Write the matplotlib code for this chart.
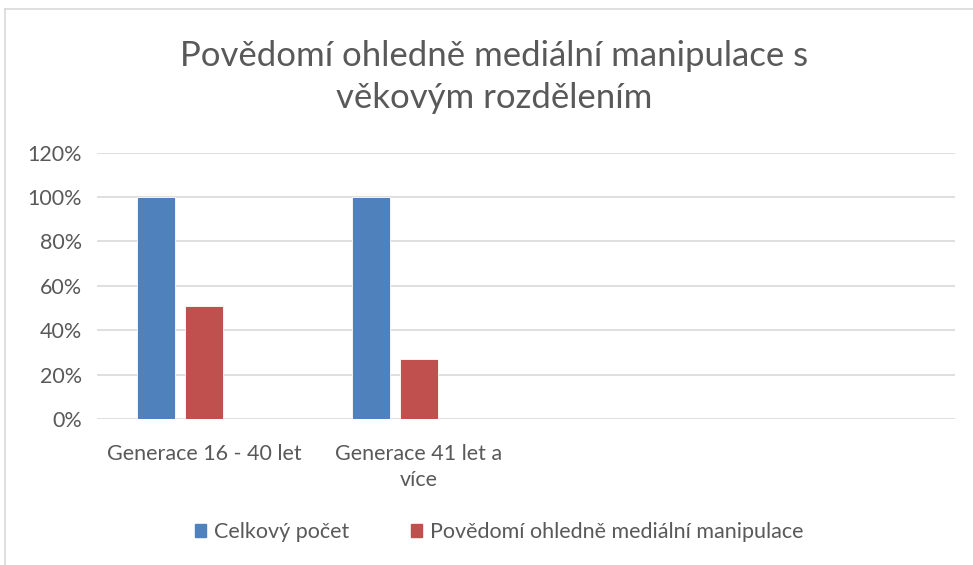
import matplotlib.pyplot as plt
from matplotlib.lines import Line2D
from matplotlib.patches import Patch
import numpy as np

plt.rcParams['font.family'] = ['Lato', 'DejaVu Sans']

title = 'Povědomí ohledně mediální manipulace s\nvěkovým rozdělením'
categories = ['Generace 16 - 40 let', 'Generace 41 let a\nvíce', '', '']
celkovy = [1.00, 1.00, None, None]
povedomi = [0.51, 0.27, None, None]
series_names = ['Celkový počet', 'Povědomí ohledně mediální manipulace']
yticks = [0, 0.2, 0.4, 0.6, 0.8, 1.0, 1.2]

blue = '#4F81BD'
red = '#C0504D'
txt = '#595959'
grid = '#D9D9D9'

fig = plt.figure(figsize=(9.73, 5.65), dpi=100)
ax = fig.add_axes([97/973, 1-419/565, (955-97)/973, (419-152.7)/565])

x = np.arange(len(categories))
w = 38/214.5
step = 48/214.5
for vals, col, off in [(celkovy, blue, -step), (povedomi, red, 0)]:
    xs = [xi + off for xi, v in zip(x, vals) if v is not None]
    vs = [v for v in vals if v is not None]
    ax.bar(xs, vs, width=w, color=col, edgecolor='white', linewidth=0.6, zorder=3)
# third (empty) series slot sits at +step

ax.set_xlim(-0.5, len(categories) - 0.5)
ax.set_ylim(0, 1.2)
ax.set_yticks(yticks)
ax.set_yticklabels([f'{int(round(t*100))}%' for t in yticks])
ax.set_xticks(x)
ax.set_xticklabels(categories)
ax.tick_params(axis='both', length=0, labelsize=15.5, colors=txt)
ax.tick_params(axis='y', pad=11)
ax.tick_params(axis='x', pad=18)
for lab in ax.get_xticklabels():
    lab.set_linespacing(1.35)
ax.yaxis.grid(True, color=grid, linewidth=1.2, zorder=0)
for s in ax.spines.values():
    s.set_visible(False)

fig.text(494/973, 1-77/565, title, ha='center', va='center', fontsize=25,
         color=txt, linespacing=1.4)

handles = [Patch(color=blue), Patch(color=red)]
fig.legend(handles, series_names, loc='center', bbox_to_anchor=(499/973, 1-532/565),
           ncol=2, frameon=False, fontsize=15.5, labelcolor=txt,
           handlelength=0.55, handleheight=0.55, handletextpad=0.35, columnspacing=2.85)

# chart border (top and left visible)
fig.add_artist(Line2D([4.5/973, 4.5/973], [0, 1-8.5/565], color='#D9D9D9', lw=1.2))
fig.add_artist(Line2D([4.5/973, 1], [1-8.5/565, 1-8.5/565], color='#D9D9D9', lw=1.2))

fig.savefig('out.png', dpi=100, facecolor='white')
